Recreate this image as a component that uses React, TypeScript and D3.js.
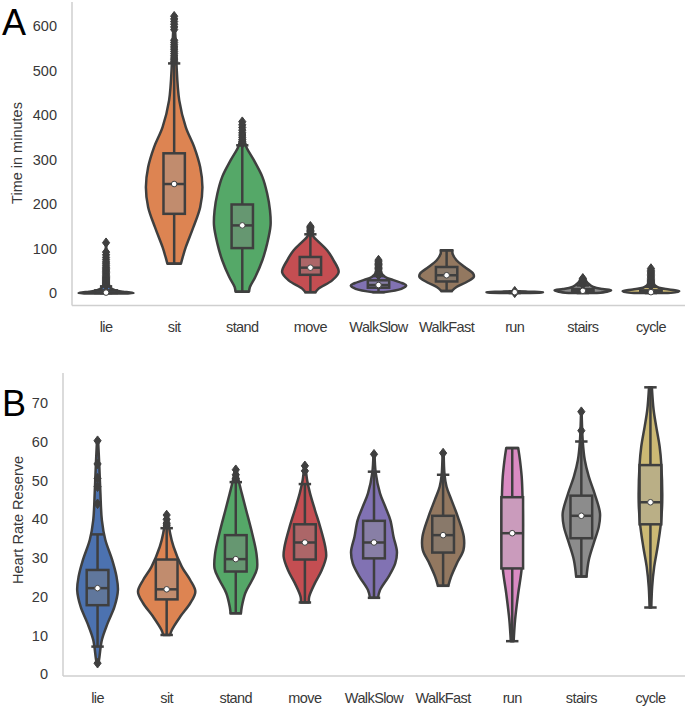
import React from "react";
import * as d3 from "d3";

const categories = ["lie", "sit", "stand", "move", "WalkSlow", "WalkFast", "run", "stairs", "cycle"];
const palette = ["#4C72B0", "#DD8452", "#55A868", "#C44E52", "#8172B3", "#937860", "#DA8BC3", "#8C8C8C", "#CCB974"];

// Panel A — time in minutes. Violin profiles: [value, relative density]
const timeProfiles: [number, number][][] = [
  [[-1, 0.6], [0, 0.97], [1.5, 0.85], [3, 0.6], [5, 0.4], [8, 0.25], [12, 0.15], [20, 0.09], [40, 0.05], [70, 0.03], [113, 0]],
  [[66, 0.24], [80, 0.3], [103, 0.41], [148, 0.68], [193, 0.92], [238, 1.0], [283, 0.92], [328, 0.71], [373, 0.41], [433, 0.18], [516, 0.08], [570, 0.05], [622, 0]],
  [[3, 0.24], [13.5, 0.27], [36, 0.46], [73.6, 0.71], [111, 0.88], [152, 1.0], [186, 0.98], [223.6, 0.88], [261, 0.71], [298.5, 0.41], [332, 0.12], [360, 0.05], [385, 0]],
  [[2, 0.18], [10, 0.29], [28.6, 0.77], [47, 1.0], [73.6, 0.82], [96, 0.59], [115, 0.29], [126, 0.12], [135, 0.05], [150, 0]],
  [[2, 0.18], [9.5, 0.81], [17, 0.98], [22, 0.85], [29, 0.53], [36, 0.24], [45, 0.1], [60, 0.05], [74, 0]],
  [[4.5, 0.18], [13.5, 0.35], [24.7, 0.71], [36, 0.96], [43.6, 0.94], [58.5, 0.64], [73.6, 0.35], [88.6, 0.21], [96, 0.21]],
  [[0, 0.3], [1, 0.95], [2, 1.0], [3, 0.5], [4, 0]],
  [[0, 0.5], [3, 0.85], [6, 1.0], [9, 0.7], [13, 0.4], [17, 0.28], [22, 0.18], [28.5, 0.1], [33, 0]],
  [[0, 0.6], [2, 0.9], [4.5, 1.0], [8, 0.64], [12, 0.28], [17, 0.14], [25, 0.08], [40, 0.05], [55, 0]],
];
// [whisker low, q1, median, q3, whisker high]
const timeBoxes: number[][] = [
  [0, 0, 1, 6, 15],
  [66, 178, 245, 314, 516],
  [3, 101, 152, 199, 332],
  [2, 41, 57, 81, 132],
  [2, 12, 18, 28.6, 38],
  [4.5, 26, 40, 58.5, 96],
  [0, 1, 2, 2.5, 3.5],
  [0, 3, 5, 9, 17],
  [0, 1, 2, 6, 14],
];
const timeOutliers: number[][] = [
  [17, 19, 21, 23, 25, 27, 29, 31, 33, 35, 37, 40, 43, 46, 49, 52, 55, 58, 62, 66, 70, 75, 80, 86, 92, 113],
  [520, 524, 528, 533, 538, 543, 548, 553, 558, 563, 568, 592, 598, 604, 610, 616, 622],
  [336, 340, 345, 350, 355, 360, 366, 372, 378, 385],
  [135, 138, 141, 144, 147, 150],
  [40, 43, 46, 49, 52, 55, 58, 61, 64, 67, 70, 74],
  [],
  [0.5, 4],
  [19, 21, 23, 25, 27, 29, 31, 33],
  [16, 18, 20, 22, 24, 26, 28, 30, 33, 36, 39, 42, 45, 48, 51, 55],
];
const timeTicks = [0, 100, 200, 300, 400, 500, 600];

// Panel B — heart rate reserve
const hrrProfiles: [number, number][][] = [
  [[2.8, 0.02], [3.6, 0.05], [8.8, 0.15], [13.1, 0.35], [17.4, 0.59], [21.7, 0.71], [25.2, 0.66], [29.5, 0.51], [34.7, 0.27], [39.8, 0.15], [46.7, 0.1], [54, 0.06], [60.3, 0.02]],
  [[10.1, 0.12], [11.4, 0.18], [14.8, 0.47], [18.3, 0.82], [21.3, 1.0], [24.3, 0.82], [27.7, 0.53], [32.9, 0.24], [36.4, 0.12], [41.1, 0.03]],
  [[15.7, 0.18], [17.4, 0.21], [20.9, 0.33], [24.3, 0.57], [27.3, 0.74], [31.2, 0.72], [36.4, 0.57], [42.4, 0.36], [46.7, 0.21], [50, 0.1], [52.8, 0.03]],
  [[18.5, 0.14], [20, 0.15], [23.5, 0.35], [26.9, 0.59], [30.3, 0.74], [32.9, 0.71], [38.1, 0.53], [42.4, 0.35], [46.7, 0.18], [50, 0.08], [53.8, 0.02]],
  [[19.7, 0.14], [21.7, 0.21], [25.2, 0.51], [28.6, 0.74], [31.6, 0.8], [35.5, 0.68], [39.8, 0.57], [43.3, 0.39], [46.7, 0.21], [52, 0.06], [56.8, 0.02]],
  [[22.8, 0.18], [25.2, 0.28], [28.6, 0.48], [32.1, 0.71], [35.5, 0.72], [40.7, 0.51], [45, 0.29], [48.4, 0.12], [51.5, 0.05], [57.1, 0.02]],
  [[8.5, 0.05], [14, 0.1], [20.9, 0.21], [27.3, 0.33], [36, 0.37], [45.7, 0.36], [51, 0.33], [55.3, 0.27], [58.4, 0.21]],
  [[25.2, 0.18], [29.5, 0.26], [33.8, 0.43], [38.1, 0.61], [41.6, 0.65], [46.7, 0.46], [51, 0.26], [55.3, 0.12], [60.1, 0.05], [67.8, 0.01]],
  [[17.2, 0.03], [22.6, 0.06], [27.7, 0.13], [32.9, 0.25], [38.7, 0.36], [44.5, 0.41], [54, 0.38], [58.8, 0.32], [64, 0.2], [68.3, 0.11], [74.1, 0.05]],
];
const hrrBoxes: number[][] = [
  [7.1, 17.8, 22.2, 26.9, 36.1],
  [10.1, 19.3, 21.9, 29.6, 37.7],
  [15.7, 26.5, 29.7, 35.9, 49.6],
  [18.5, 29.6, 34, 38.7, 49.1],
  [19.7, 29.9, 34, 39.6, 52.3],
  [22.8, 31.4, 35.9, 40.9, 51.5],
  [8.5, 27.3, 36.4, 45.7, 58.4],
  [25.2, 35.1, 40.9, 46.1, 60.1],
  [17.2, 38.7, 44.4, 54, 74.1],
];
const hrrOutliers: number[][] = [
  [2.8, 44, 48.4, 50.6, 54.3, 60.3],
  [38.5, 39, 40, 41.1],
  [50.5, 51.5, 52.8],
  [52.5, 53.8],
  [56.8],
  [57.1],
  [],
  [62.9, 67.8],
  [],
];
const hrrTicks = [0, 10, 20, 30, 40, 50, 60, 70];

const LINE = "#3f3f3f";
const SPINE = "#cfcfcf";
const TEXT = "#383838";
const FONT = "'Liberation Sans', Arial, Helvetica, sans-serif";
const SW = 2.5;

function boxColor(c: string) {
  const h = d3.hsl(c);
  h.s *= 0.6;
  return h.formatHex();
}

function diamondPath(cx: number, cy: number, hw: number, hh: number) {
  const p = d3.path();
  p.moveTo(cx, cy - hh);
  p.lineTo(cx + hw, cy);
  p.lineTo(cx, cy + hh);
  p.lineTo(cx - hw, cy);
  p.closePath();
  return p.toString();
}

type PanelProps = {
  profiles: [number, number][][];
  boxes: number[][];
  outliers: number[][];
  ticks: number[];
  xRange: [number, number];
  yDomain: [number, number];
  yRange: [number, number];
  yLabel: string;
  yLabelPos: [number, number];
  xLabelY: number;
  letter: string;
  letterY: number;
};

function Panel(props: PanelProps) {
  const { profiles, boxes, outliers, ticks, xRange, yDomain, yRange, yLabel, yLabelPos, xLabelY, letter, letterY } = props;
  const x = d3.scaleBand<string>().domain(categories).range(xRange).padding(0);
  const y = d3.scaleLinear().domain(yDomain).range(yRange);
  const bw = x.bandwidth();
  const w = d3.scaleLinear().domain([0, 1]).range([0, bw * 0.415]);
  const boxHalf = bw * 0.157;
  const capHalf = bw * 0.09;

  return (
    <g>
      <line x1={xRange[0]} x2={xRange[0]} y1={yRange[1]} y2={yRange[0]} stroke={SPINE} strokeWidth={1.5} />
      <line x1={xRange[0]} x2={xRange[1]} y1={yRange[0]} y2={yRange[0]} stroke={SPINE} strokeWidth={1.5} />
      {ticks.map((t) => (
        <text key={t} x={xRange[0] - 15} y={y(t)} dy="0.36em" textAnchor="end" fontSize={14.5} fill={TEXT} fontFamily={FONT}>
          {t}
        </text>
      ))}
      {categories.map((c) => (
        <text key={c} x={(x(c) as number) + bw / 2} y={xLabelY} textAnchor="middle" fontSize={14.5} letterSpacing={-0.6} fill={TEXT} fontFamily={FONT}>
          {c}
        </text>
      ))}
      <text transform={`translate(${yLabelPos[0]},${yLabelPos[1]}) rotate(-90)`} textAnchor="middle" fontSize={14.5} fill={TEXT} fontFamily={FONT}>
        {yLabel}
      </text>
      <text x={2} y={letterY} fontSize={36} fill="#000" fontFamily={FONT}>
        {letter}
      </text>
      {categories.map((c, i) => {
        const cx = (x(c) as number) + bw / 2;
        const area = d3
          .area<[number, number]>()
          .y((d) => y(d[0]))
          .x0((d) => cx - w(d[1]))
          .x1((d) => cx + w(d[1]))
          .curve(d3.curveCatmullRom);
        const [wlo, q1, med, q3, whi] = boxes[i];
        return (
          <g key={c}>
            <path d={area(profiles[i]) || ""} fill={palette[i]} stroke={LINE} strokeWidth={SW} strokeLinejoin="round" />
            <line x1={cx} x2={cx} y1={y(q3)} y2={y(whi)} stroke={LINE} strokeWidth={SW} />
            <line x1={cx} x2={cx} y1={y(q1)} y2={y(wlo)} stroke={LINE} strokeWidth={SW} />
            <line x1={cx - capHalf} x2={cx + capHalf} y1={y(whi)} y2={y(whi)} stroke={LINE} strokeWidth={SW} />
            <line x1={cx - capHalf} x2={cx + capHalf} y1={y(wlo)} y2={y(wlo)} stroke={LINE} strokeWidth={SW} />
            <rect x={cx - boxHalf} width={boxHalf * 2} y={y(q3)} height={Math.max(0.5, y(q1) - y(q3))} fill={boxColor(palette[i])} stroke={LINE} strokeWidth={SW} />
            <line x1={cx - boxHalf} x2={cx + boxHalf} y1={y(med)} y2={y(med)} stroke={LINE} strokeWidth={SW} />
            {outliers[i].map((o, k) => (
              <path key={k} d={diamondPath(cx, y(o), 3.6, 4.8)} fill={LINE} stroke={LINE} strokeWidth={1} />
            ))}
            <circle cx={cx} cy={y(med)} r={2.8} fill="#ffffff" stroke={LINE} strokeWidth={1} />
          </g>
        );
      })}
    </g>
  );
}

export default function App() {
  return (
    <svg width={688} height={707} style={{ position: "absolute", left: 0, top: 0, background: "#ffffff" }}>
      <rect x={0} y={0} width={688} height={707} fill="#ffffff" />
      <Panel
        profiles={timeProfiles}
        boxes={timeBoxes}
        outliers={timeOutliers}
        ticks={timeTicks}
        xRange={[72, 685]}
        yDomain={[-28, 654]}
        yRange={[305.5, 2]}
        yLabel="Time in minutes"
        yLabelPos={[22, 153]}
        xLabelY={332}
        letter="A"
        letterY={35}
      />
      <Panel
        profiles={hrrProfiles}
        boxes={hrrBoxes}
        outliers={hrrOutliers}
        ticks={hrrTicks}
        xRange={[63, 685]}
        yDomain={[-0.5, 77.8]}
        yRange={[676, 373]}
        yLabel="Heart Rate Reserve"
        yLabelPos={[23, 520]}
        xLabelY={703}
        letter="B"
        letterY={416}
      />
    </svg>
  );
}
